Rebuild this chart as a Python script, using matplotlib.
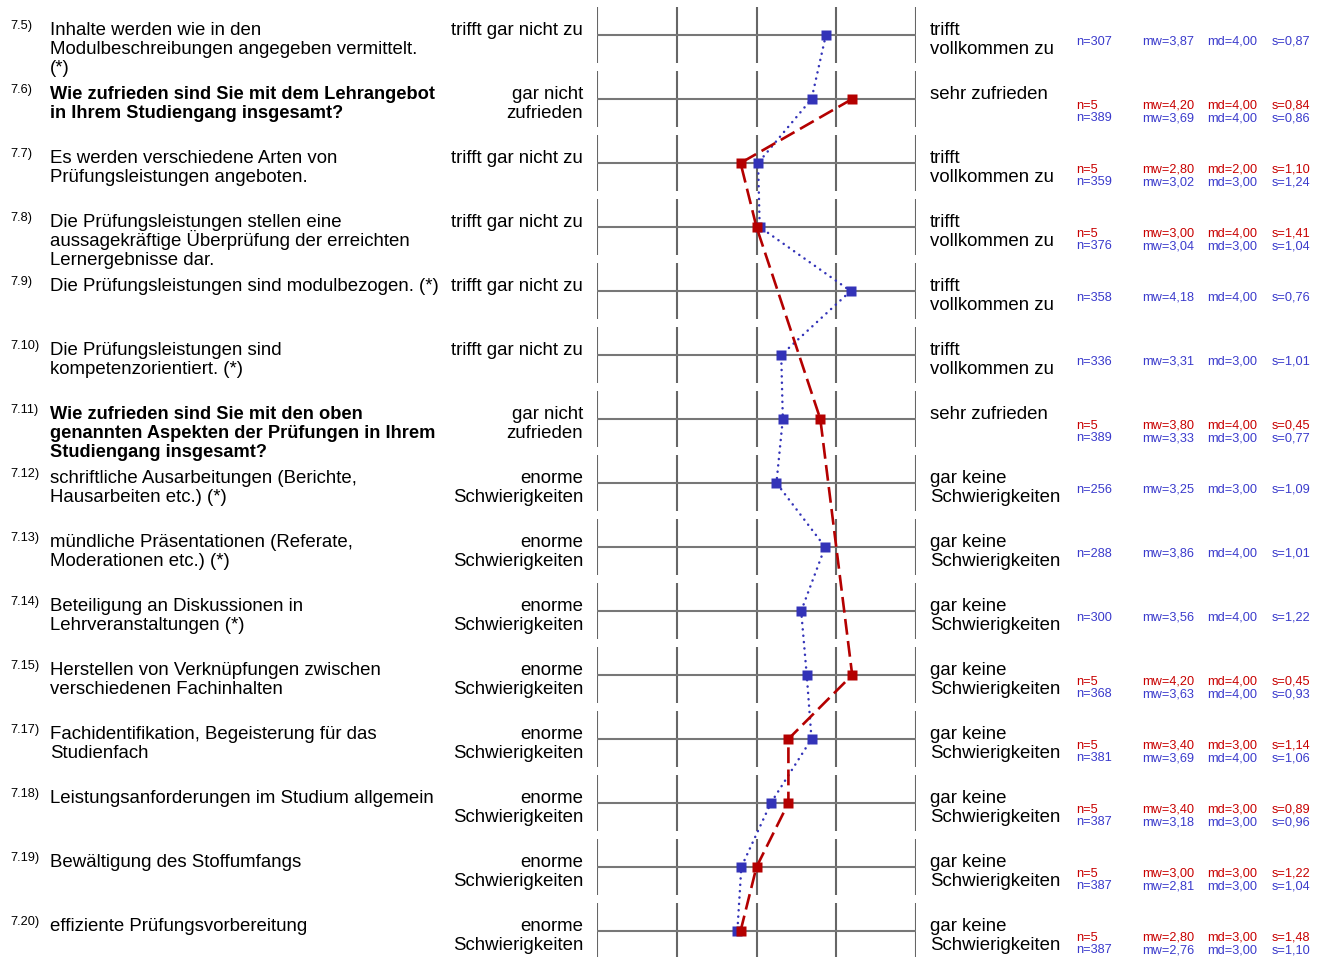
import matplotlib
matplotlib.use("Agg")
import matplotlib.pyplot as plt
import matplotlib.transforms as mtransforms
import numpy as np

plt.rcParams['font.family'] = ['Liberation Sans', 'DejaVu Sans']

# item numbers and question texts
item_ids = ["7.5)", "7.6)", "7.7)", "7.8)", "7.9)", "7.10)", "7.11)", "7.12)",
            "7.13)", "7.14)", "7.15)", "7.17)", "7.18)", "7.19)", "7.20)"]
questions = [
    "Inhalte werden wie in den\nModulbeschreibungen angegeben vermittelt.\n(*)",
    "Wie zufrieden sind Sie mit dem Lehrangebot\nin Ihrem Studiengang insgesamt?",
    "Es werden verschiedene Arten von\nPrüfungsleistungen angeboten.",
    "Die Prüfungsleistungen stellen eine\naussagekräftige Überprüfung der erreichten\nLernergebnisse dar.",
    "Die Prüfungsleistungen sind modulbezogen. (*)",
    "Die Prüfungsleistungen sind\nkompetenzorientiert. (*)",
    "Wie zufrieden sind Sie mit den oben\ngenannten Aspekten der Prüfungen in Ihrem\nStudiengang insgesamt?",
    "schriftliche Ausarbeitungen (Berichte,\nHausarbeiten etc.) (*)",
    "mündliche Präsentationen (Referate,\nModerationen etc.) (*)",
    "Beteiligung an Diskussionen in\nLehrveranstaltungen (*)",
    "Herstellen von Verknüpfungen zwischen\nverschiedenen Fachinhalten",
    "Fachidentifikation, Begeisterung für das\nStudienfach",
    "Leistungsanforderungen im Studium allgemein",
    "Bewältigung des Stoffumfangs",
    "effiziente Prüfungsvorbereitung",
]
bold_items = ["7.6)", "7.11)"]

tgnz = ("trifft gar nicht zu", "trifft\nvollkommen zu")
zufr = ("gar nicht\nzufrieden", "sehr zufrieden")
schw = ("enorme\nSchwierigkeiten", "gar keine\nSchwierigkeiten")
poles = [tgnz, zufr, tgnz, tgnz, tgnz, tgnz, zufr,
         schw, schw, schw, schw, schw, schw, schw, schw]

# course results (NaN where no answers)
red_n = [np.nan, 5, 5, 5, np.nan, np.nan, 5, np.nan, np.nan, np.nan, 5, 5, 5, 5, 5]
red_mw = [np.nan, 4.20, 2.80, 3.00, np.nan, np.nan, 3.80, np.nan, np.nan, np.nan,
          4.20, 3.40, 3.40, 3.00, 2.80]
red_md = [np.nan, 4.00, 2.00, 4.00, np.nan, np.nan, 4.00, np.nan, np.nan, np.nan,
          4.00, 3.00, 3.00, 3.00, 3.00]
red_s = [np.nan, 0.84, 1.10, 1.41, np.nan, np.nan, 0.45, np.nan, np.nan, np.nan,
         0.45, 1.14, 0.89, 1.22, 1.48]

# comparison group
blue_n = [307, 389, 359, 376, 358, 336, 389, 256, 288, 300, 368, 381, 387, 387, 387]
blue_mw = [3.87, 3.69, 3.02, 3.04, 4.18, 3.31, 3.33, 3.25, 3.86, 3.56, 3.63, 3.69,
           3.18, 2.81, 2.76]
blue_md = [4.00, 4.00, 3.00, 3.00, 4.00, 3.00, 3.00, 3.00, 4.00, 4.00, 4.00, 4.00,
           3.00, 3.00, 3.00]
blue_s = [0.87, 0.86, 1.24, 1.04, 0.76, 1.01, 0.77, 1.09, 1.01, 1.22, 0.93, 1.06,
          0.96, 1.04, 1.10]

RED = '#B40000'
RED_TXT = '#C80000'
BLUE = '#3333B8'
BLUE_TXT = '#3A3ACC'
GRID = '#666666'

W, H = 1321, 957
row_h = 64.0
top = 35.0

fig = plt.figure(figsize=(W / 100, H / 100), dpi=100)
ax = fig.add_axes([597 / W, 0, (916 - 597) / W, 1])
ax.set_xlim(1, 5)
ax.set_ylim((H - top) / row_h, -top / row_h)
ax.axis('off')

rows = np.arange(len(item_ids))
half = 28 / row_h
for x in range(1, 6):
    ax.vlines(np.full(len(rows), x), rows - half, rows + half, color=GRID, lw=1.5)
ax.hlines(rows, 1, 5, color='#777777', lw=1.5)

ax.plot(blue_mw, rows, color=BLUE, lw=1.8, linestyle=(0, (0.05, 2.5)),
        dash_capstyle='round', clip_on=False)
ax.plot(blue_mw, rows, 's', color=BLUE, ms=6.6, mec='none', clip_on=False)

red_mw_a = np.array(red_mw)
has_red = ~np.isnan(red_mw_a)
ax.plot(red_mw_a[has_red], rows[has_red], color=RED, lw=1.9,
        linestyle=(0, (6.0, 2.4)), clip_on=False)
ax.plot(red_mw_a[has_red], rows[has_red], 's', color=RED, ms=7.2, mec='none',
        clip_on=False)

trans = mtransforms.blended_transform_factory(fig.transFigure, ax.transData)
px = 1 / row_h
qsize = 13.4
bsize = 13.15
ssize = 9.2
line_gap = 19.0  # baseline to baseline, pixels


def fmt(v):
    return f"{v:.2f}".replace('.', ',')


def block(x, r, text, ha='left', weight='normal'):
    # one text per line so accents don't push the lines apart
    size = bsize if weight == 'bold' else qsize
    for k, line in enumerate(text.split('\n')):
        ax.text(x / W, r + k * line_gap * px, line, transform=trans,
                fontsize=size, va='baseline', ha=ha, fontweight=weight)


def stat_line(y, n, mw, md, s, color):
    ax.text(1076 / W, y, f"n={int(n)}", transform=trans, fontsize=ssize,
            color=color, va='baseline')
    ax.text(1142 / W, y, f"mw={fmt(mw)}", transform=trans, fontsize=ssize,
            color=color, va='baseline')
    ax.text(1207 / W, y, f"md={fmt(md)}", transform=trans, fontsize=ssize,
            color=color, va='baseline')
    ax.text(1272 / W, y, f"s={fmt(s)}", transform=trans, fontsize=ssize,
            color=color, va='baseline')


for i, r in enumerate(rows):
    weight = 'bold' if item_ids[i] in bold_items else 'normal'
    ax.text(10 / W, r - 6 * px, item_ids[i], transform=trans, fontsize=ssize,
            va='baseline')
    block(50, r, questions[i], weight=weight)
    block(583, r, poles[i][0], ha='right')
    block(930, r, poles[i][1])
    if np.isnan(red_mw[i]):
        stat_line(r + 10 * px, blue_n[i], blue_mw[i], blue_md[i], blue_s[i], BLUE_TXT)
    else:
        stat_line(r + 10 * px, red_n[i], red_mw[i], red_md[i], red_s[i], RED_TXT)
        stat_line(r + 22.5 * px, blue_n[i], blue_mw[i], blue_md[i], blue_s[i], BLUE_TXT)

fig.savefig("out.png", dpi=100)
